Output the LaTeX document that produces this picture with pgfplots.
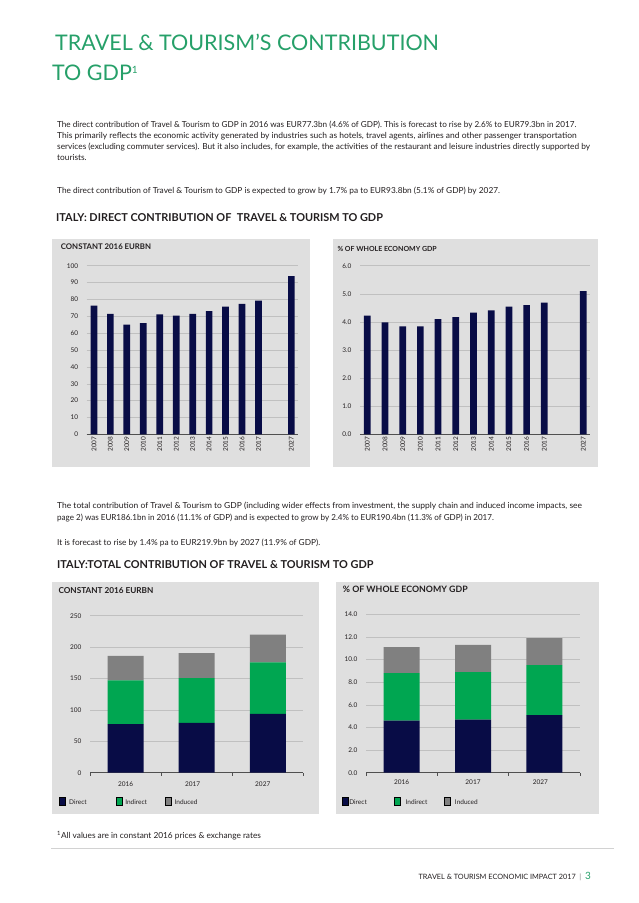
\documentclass[border=0pt]{standalone}
\usepackage{fontspec}
\setmainfont{Lato}
\usepackage{pgfplots}
\pgfplotsset{compat=1.18}

\definecolor{ttgreen}{RGB}{38,160,105}
\definecolor{navy}{RGB}{8,12,70}
\definecolor{indgreen}{RGB}{0,166,81}
\definecolor{indgray}{RGB}{128,128,128}
\definecolor{panel}{RGB}{223,223,223}
\definecolor{gridgray}{RGB}{192,192,192}
\definecolor{axisgray}{RGB}{80,80,80}
\definecolor{txt}{RGB}{35,31,32}

\pgfplotsset{
  chartbase/.style={
    scale only axis,
    axis x line*=bottom, axis y line*=left,
    y axis line style={draw=none},
    x axis line style={draw=axisgray, line width=0.7pt},
    ymajorgrids, grid style={draw=gridgray, line width=0.45pt},
    ymin=0,
    major tick length=0pt,
    ticklabel style={font=\fontsize{6.5}{7}\selectfont, text=txt},
    yticklabel style={xshift=-5pt},
    /pgf/number format/assume math mode=true,
    clip=false,
  },
  onedec/.style={yticklabel style={/pgf/number format/.cd, fixed, fixed zerofill, precision=1}},
  sqlegend/.style={
    legend image code/.code={\fill[##1, draw=none] (0pt,-4.7pt) rectangle (10.5pt,4.7pt);},
    legend style={draw=none, fill=none, inner sep=0pt, column sep=0pt,
      nodes={inner sep=0pt}, font=\fontsize{6.5}{7}\selectfont, text=txt},
    legend columns=3,
  },
}

\begin{document}
\begin{tikzpicture}
\fill[white] (0pt,0pt) rectangle (638pt,-903pt);
\begin{scope}[x=1pt,y=-1pt]
  % panels
  \fill[panel] (51.7,239.3) rectangle (310,467);
  \fill[panel] (333,239.3) rectangle (597.7,467);
  \fill[panel] (51.7,581.5) rectangle (319,814.3);
  \fill[panel] (336,581.5) rectangle (599.3,814.3);

  % title
  \node[anchor=mid west, inner sep=0pt, text=ttgreen, font=\fontsize{21.5}{24}\selectfont] at (55,48) {TRAVEL \& TOURISM{\char"0027}S CONTRIBUTION};
  \node[anchor=mid west, inner sep=0pt, text=ttgreen, font=\fontsize{21.5}{24}\selectfont] at (52,78) {TO GDP\textsuperscript{\fontsize{10}{10}\selectfont 1}};

  \begin{scope}[every node/.style={anchor=mid west, inner sep=0pt, text=txt, font=\fontsize{8.3}{10}\selectfont}]
    \node at (57,125) {\scalebox{0.98}[1]{The direct contribution of Travel \& Tourism to GDP in 2016 was EUR77.3bn (4.6\% of GDP). This is forecast to rise by 2.6\% to EUR79.3bn in 2017.}};
    \node at (57,136) {\scalebox{1.02}[1]{This primarily reflects the economic activity generated by industries such as hotels, travel agents, airlines and other passenger transportation}};
    \node at (57,147) {services (excluding commuter services). But it also includes, for example, the activities of the restaurant and leisure industries directly supported by};
    \node at (57,158) {tourists.};
    \node at (57,191) {The direct contribution of Travel \& Tourism to GDP is expected to grow by 1.7\% pa to EUR93.8bn (5.1\% of GDP) by 2027.};
    \node at (57,506) {\scalebox{1.02}[1]{The total contribution of Travel \& Tourism to GDP (including wider effects from investment, the supply chain and induced income impacts, see}};
    \node at (57,518) {\scalebox{0.97}[1]{page 2) was EUR186.1bn in 2016 (11.1\% of GDP) and is expected to grow by 2.4\% to EUR190.4bn (11.3\% of GDP) in 2017.}};
    \node at (57,543) {It is forecast to rise by 1.4\% pa to EUR219.9bn by 2027 (11.9\% of GDP).};
    \node at (57,836) {\textsuperscript{1}All values are in constant 2016 prices \& exchange rates};
  \end{scope}

  % headings
  \begin{scope}[every node/.style={anchor=mid west, inner sep=0pt, text=txt, font=\fontsize{10.9}{12}\bfseries}]
    \node at (56,219) {ITALY: DIRECT CONTRIBUTION OF\ \ TRAVEL \& TOURISM TO GDP};
    \node at (57,566) {ITALY:TOTAL CONTRIBUTION OF TRAVEL \& TOURISM TO GDP};
  \end{scope}

  % chart titles
  \begin{scope}[every node/.style={anchor=mid west, inner sep=0pt, text=txt}]
    \node[font=\fontsize{7.8}{9}\bfseries] at (60.7,246.7) {CONSTANT 2016 EURBN};
    \node[font=\fontsize{7.0}{9}\bfseries] at (337.3,249.3) {\% OF WHOLE ECONOMY GDP};
    \node[font=\fontsize{8.2}{9}\bfseries] at (58.3,591) {CONSTANT 2016 EURBN};
    \node[font=\fontsize{8.8}{9}\bfseries] at (342.7,590) {\% OF WHOLE ECONOMY GDP};
  \end{scope}

  % footer
  \draw[gray!35, line width=0.4pt] (51,848) -- (614,848);
  \node[anchor=mid east, inner sep=0pt, text=txt, font=\fontsize{7.3}{8}\selectfont] at (591,877)
    {TRAVEL \& TOURISM ECONOMIC IMPACT 2017\ \ {\color{gray}\textbar}\ \ {\color{ttgreen}\fontsize{10}{10}\selectfont 3}};
\end{scope}

% ---- direct contribution, EURbn
\begin{axis}[chartbase, ybar, bar width=6.7pt,
  at={(86.7pt,-434.3pt)}, anchor=south west,
  width=211.6pt, height=168.6pt,
  xmin=-0.44, xmax=12.42, ymax=100,
  ytick={0,10,...,100},
  xtick={0,1,2,3,4,5,6,7,8,9,10,12},
  xticklabels={2007,2008,2009,2010,2011,2012,2013,2014,2015,2016,2017,2027},
  xticklabel style={rotate=90, anchor=east, inner sep=2pt},
  ]
  \addplot[fill=navy, draw=none] coordinates {
    (0,76.3) (1,71.4) (2,65.0) (3,66.0) (4,71.2) (5,70.4)
    (6,71.4) (7,73.1) (8,75.7) (9,77.3) (10,79.3) (12,93.8)};
\end{axis}

% ---- direct contribution, % of GDP
\begin{axis}[chartbase, onedec, ybar, bar width=6.7pt,
  at={(360pt,-434.3pt)}, anchor=south west,
  width=230pt, height=168.6pt,
  xmin=-0.41, xmax=12.58, ymax=6,
  ytick={0,1,...,6},
  xtick={0,1,2,3,4,5,6,7,8,9,10,12.2},
  xticklabels={2007,2008,2009,2010,2011,2012,2013,2014,2015,2016,2017,2027},
  xticklabel style={rotate=90, anchor=east, inner sep=2pt},
  ]
  \addplot[fill=navy, draw=none] coordinates {
    (0,4.22) (1,3.98) (2,3.84) (3,3.84) (4,4.10) (5,4.17)
    (6,4.33) (7,4.41) (8,4.54) (9,4.60) (10,4.69) (12.2,5.10)};
\end{axis}

% ---- total contribution, EURbn
\begin{axis}[chartbase, sqlegend, ybar stacked, bar width=36pt,
  at={(90pt,-772.7pt)}, anchor=south west,
  width=213.3pt, height=157pt,
  xmin=-0.5, xmax=2.5, ymax=250,
  ytick={0,50,...,250},
  xtick={0,1,2},
  xticklabels={2016,{\hspace{-8pt}2017},{\hspace{-10pt}2027}},
  xticklabel style={yshift=-6pt},
  extra x ticks={-0.5,0.5,1.5,2.5}, extra x tick labels={},
  extra x tick style={major tick length=3pt, tick align=outside, tick style={draw=axisgray, line width=0.6pt}},
  legend style={at={(axis description cs:-0.1486,-0.1822)}, anchor=west},
  ]
  \addplot[fill=navy, draw=none] coordinates {(0,77.3) (1,79.3) (2,93.8)};
  \addplot[fill=indgreen, draw=none] coordinates {(0,69.7) (1,71.2) (2,81.7)};
  \addplot[fill=indgray, draw=none] coordinates {(0,39.1) (1,39.9) (2,44.4)};
  \legend{{\hspace{4.3pt}\makebox[46.4pt][l]{Direct}},{\hspace{3.3pt}\makebox[40pt][l]{Indirect}},{\hspace{3pt}Induced}}
\end{axis}

% ---- total contribution, % of GDP
\begin{axis}[chartbase, onedec, sqlegend, ybar stacked, bar width=36pt,
  at={(366pt,-772.7pt)}, anchor=south west,
  width=214pt, height=158.4pt,
  xmin=-0.5, xmax=2.5, ymax=14,
  ytick={0,2,...,14},
  xtick={0,1,2},
  xticklabels={2016,2017,{\raisebox{-2pt}{\hspace{-8pt}2027}}},
  xticklabel style={yshift=-4pt},
  extra x ticks={-0.5,0.5,1.5,2.5}, extra x tick labels={},
  extra x tick style={major tick length=3pt, tick align=outside, tick style={draw=axisgray, line width=0.6pt}},
  legend style={at={(axis description cs:-0.1136,-0.1806)}, anchor=west},
  ]
  \addplot[fill=navy, draw=none] coordinates {(0,4.6) (1,4.7) (2,5.1)};
  \addplot[fill=indgreen, draw=none] coordinates {(0,4.2) (1,4.2) (2,4.4)};
  \addplot[fill=indgray, draw=none] coordinates {(0,2.3) (1,2.4) (2,2.4)};
  \legend{{\hspace{1pt}\makebox[45pt][l]{Direct}},{\hspace{5pt}\makebox[38.4pt][l]{Indirect}},{\hspace{4.5pt}Induced}}
\end{axis}

\pgfresetboundingbox
\path[use as bounding box] (0pt,0pt) rectangle (638pt,-903pt);
\end{tikzpicture}
\end{document}
